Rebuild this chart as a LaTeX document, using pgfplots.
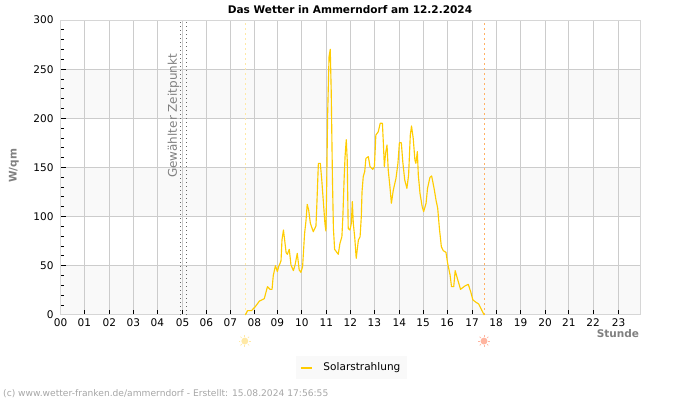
\documentclass[border=0pt]{standalone}
\usepackage{fontspec}
\setmainfont{DejaVu Sans}
\usepackage{pgfplots}
\usepackage{pgfplotstable}
\pgfplotsset{compat=1.18}
\definecolor{solar}{HTML}{FFCC00}
\definecolor{gridc}{HTML}{CCCCCC}
\definecolor{band}{HTML}{F9F9F9}
\definecolor{labelc}{HTML}{808080}
\definecolor{sunup}{HTML}{FFE9A6}
\definecolor{sundown}{HTML}{FFB5A0}
\newcommand{\tinyfont}{\fontsize{7.9pt}{9.5pt}\selectfont}

% hour, W/qm
\pgfplotstableread{
h v
7.62 0
7.71 4.4
7.87 4.4
8.03 8.5
8.20 14.2
8.40 16.6
8.53 28.8
8.64 26.1
8.72 26.1
8.77 40
8.86 50.2
8.94 44.1
8.99 49
9.05 52.5
9.09 55.1
9.13 76.3
9.19 86.4
9.24 76.3
9.30 63.4
9.35 61.7
9.43 66.8
9.50 51
9.60 45.1
9.67 51
9.76 62.7
9.84 45.8
9.91 43.4
9.98 49.2
10.06 82.4
10.12 96
10.17 112.5
10.23 106.8
10.30 93.2
10.42 84.7
10.53 90.5
10.56 107.5
10.63 154.2
10.71 154.2
10.77 137.3
10.83 117
10.90 93.2
10.94 85.4
10.97 125.4
11.01 201.7
11.07 262.7
11.12 270.2
11.16 227.1
11.21 138.9
11.25 88
11.30 66.8
11.45 61.7
11.52 72.9
11.60 79.7
11.64 100
11.69 137.3
11.73 161
11.78 178.3
11.82 157.3
11.86 88
11.93 86.4
11.99 93.2
12.03 115.3
12.07 93.2
12.13 78.6
12.19 57.6
12.28 76.3
12.35 79.7
12.40 100
12.43 125.4
12.48 140.7
12.54 145.8
12.59 159.3
12.69 161
12.76 150.8
12.87 148.1
12.94 150.8
13.00 183
13.10 186.4
13.18 195
13.27 195
13.31 174.6
13.35 150.8
13.40 164.4
13.46 172.9
13.51 147.5
13.58 130.5
13.64 113.6
13.72 127.1
13.83 139
13.91 154.2
13.97 175.2
14.05 175.2
14.11 155.9
14.19 137.3
14.28 128.8
14.35 142.4
14.42 183
14.47 192.2
14.54 179.7
14.61 157.6
14.65 154.2
14.71 166.1
14.75 142.4
14.82 123.7
14.91 110.2
14.97 105.1
15.07 113.6
15.13 128.8
15.23 140
15.30 141.4
15.40 128.8
15.48 116.9
15.55 108.5
15.62 88
15.70 69.5
15.78 65.4
15.89 63.7
15.96 52.5
16.06 40.7
16.12 28.8
16.21 28.8
16.27 45.1
16.34 39
16.49 26.1
16.67 29.5
16.81 31.2
16.91 23.7
17.00 15.3
17.13 12.9
17.24 11.2
17.36 5.1
17.47 0
}\solardata

\begin{document}
\begin{tikzpicture}
  \path (0,0) rectangle (525pt,300pt);
  \begin{axis}[
    at={(45.4pt,63.75pt)},
    anchor=south west,
    scale only axis,
    width=434.6pt,
    height=221.25pt,
    set layers,
    xmin=0, xmax=23.89,
    ymin=0, ymax=300,
    xtick={0,0.98,2.01,3,3.99,5.03,6.01,7,7.99,8.94,9.95,10.96,11.95,12.94,13.97,14.95,15.94,16.97,17.96,18.97,19.98,20.96,21.96,23.01},
    xticklabels={00,01,02,03,04,05,06,07,08,09,10,11,12,13,14,15,16,17,18,19,20,21,22,23},
    ytick={0,50,...,300},
    minor y tick num=4,
    tick align=inside,
    xtick pos=bottom,
    ytick pos=left,
    major tick length=3.75pt,
    minor tick length=2.25pt,
    tick style={black,line width=0.75pt},
    minor tick style={black,line width=0.75pt},
    axis line style={gridc!80!white,line width=0.75pt},
    xmajorgrids=true,
    ymajorgrids=true,
    grid style={gridc,line width=0.75pt},
    /pgf/number format/assume math mode=true,
    ticklabel style={font=\tinyfont,text=black},
    xticklabel style={yshift=-1.6pt,inner sep=1pt},
    yticklabel style={inner sep=1pt,xshift=-4pt},
    clip=false,
    legend style={
      at={(0.502,-0.178)},anchor=center,
      fill=band,draw=none,font=\tinyfont,
      inner xsep=3pt,inner ysep=3pt
    },
    legend image code/.code={\draw[solar,line width=1.5pt] (0pt,0pt) -- (8.25pt,0pt);},
    ]
    % bands behind the grid
    \addplot[forget plot,on layer=axis background,fill=band,draw=none] coordinates {(0,0) (23.89,0) (23.89,50) (0,50)} \closedcycle;
    \addplot[forget plot,on layer=axis background,fill=band,draw=none] coordinates {(0,100) (23.89,100) (23.89,150) (0,150)} \closedcycle;
    \addplot[forget plot,on layer=axis background,fill=band,draw=none] coordinates {(0,200) (23.89,200) (23.89,250) (0,250)} \closedcycle;
    % sunrise, sunset, selected time
    \addplot[forget plot,sunup,line width=0.6pt,dash pattern=on 1.5pt off 2.25pt] coordinates {(7.62,0) (7.62,300)};
    \addplot[forget plot,orange!60!white,line width=0.6pt,dash pattern=on 1.5pt off 2.25pt] coordinates {(17.47,0) (17.47,300)};
    \addplot[forget plot,black!60,line width=0.75pt,dash pattern=on 0.75pt off 2.25pt] coordinates {(4.94,0) (4.94,300)};
    \addplot[forget plot,black!60,line width=0.75pt,dash pattern=on 0.75pt off 2.25pt] coordinates {(5.19,0) (5.19,300)};
    \addplot[solar,line width=0.85pt,line join=round] table[x=h,y=v] {\solardata};
    \addlegendentry{\hspace*{6pt}Solarstrahlung\hspace{6.5pt}}
  \end{axis}
  % texts placed on the page, in pt
  \node[anchor=center,font={\tinyfont\bfseries}] at (262.5pt,293pt) {Das Wetter in Ammerndorf am 12.2.2024};
  \node[anchor=center,rotate=90,font={\tinyfont\bfseries},text=labelc] at (10.5pt,175.5pt) {W/qm};
  \node[anchor=east,font={\tinyfont\bfseries},text=labelc,inner sep=0pt] at (479.5pt,49.5pt) {Stunde};
  \node[anchor=center,rotate=90,text=labelc,inner sep=0pt,font=\fontsize{9pt}{11pt}\selectfont] at (130.2pt,213pt) {Gewählter Zeitpunkt};
  \node[anchor=west,text=black!35,inner sep=0pt,font=\fontsize{6.85pt}{8pt}\selectfont] at (2.2pt,5pt) {(c) www.wetter-franken.de/ammerndorf - Erstellt: 15.08.2024 17:56:55};
  % sun icons
  \foreach \cx/\col in {183.6pt/sunup,363pt/sundown}{
    \fill[\col] (\cx,44.2pt) circle (2.6pt);
    \foreach \a in {0,45,...,315}
      \draw[\col,line width=0.5pt] ([shift={(\a:3.3pt)}]\cx,44.2pt) -- ([shift={(\a:4.6pt)}]\cx,44.2pt);
  }
\end{tikzpicture}
\end{document}
